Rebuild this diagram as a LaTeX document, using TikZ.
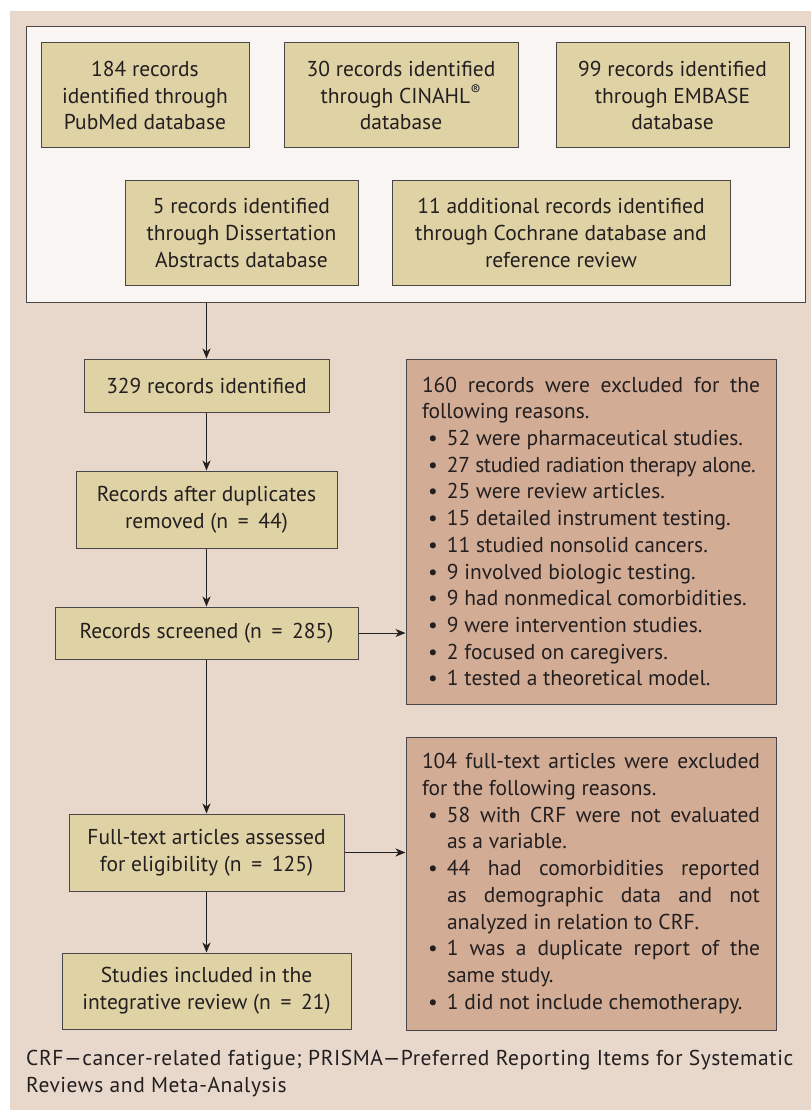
\documentclass[tikz,border=0pt]{standalone}
\usepackage{fontspec}
\setmainfont{PT Sans}
\usetikzlibrary{arrows.meta}

\definecolor{pagebg}{HTML}{E8D8CB}
\definecolor{idbg}{HTML}{F8F5F2}
\definecolor{recfill}{HTML}{DFD3A5}
\definecolor{exfill}{HTML}{D2AC95}
\definecolor{edge}{HTML}{4A4646}
\definecolor{ink}{HTML}{231F20}
\setlength{\parindent}{0pt}
\newcommand{\exitem}[1]{\par\noindent\hangindent=25pt\hangafter=1\hbox to 25pt{\hskip 6pt\textbullet\hfil}#1}
\newcommand{\eqsign}{\hspace{0.45em}=\hspace{0.45em}}

\begin{document}
\begin{tikzpicture}[x=1pt,y=-1pt,
    every node/.style={font=\fontsize{21.5}{26.7}\selectfont,text=ink},
    recbox/.style={draw=edge,fill=recfill,line width=1pt,inner sep=0pt,align=center},
    exclbox/.style={draw=edge,fill=exfill,line width=1pt,inner xsep=16pt,inner ysep=0pt,text width=338pt,align=justify},
    flow/.style={-{Stealth[length=10pt,width=8pt,inset=3pt]},line width=1pt,draw=ink}]
  \useasboundingbox (0,0) rectangle (811,1110);
  \fill[pagebg] (10,11) rectangle (811,1110);
  %identification
  \node[draw=edge,fill=idbg,line width=1pt,minimum width=779pt,minimum height=275pt,inner sep=0pt] (idbox) at (415.5,164.5) {};
  \node[recbox,minimum width=208pt,minimum height=105pt] (pubmed) at (145,95.5)
    {184 records\\identified through\\PubMed database};
  \node[recbox,minimum width=234pt,minimum height=105pt] (cinahl) at (401,95.5)
    {30 records identified\\through CINAHL\textsuperscript{\textregistered}\\database};
  \node[recbox,minimum width=233pt,minimum height=105pt] (embase) at (672.5,95.5)
    {99 records identified\\through EMBASE\\database};
  \node[recbox,minimum width=233pt,minimum height=104pt] (dissert) at (241.5,233)
    {5 records identified\\through Dissertation\\Abstracts database};
  \node[recbox,minimum width=338pt,minimum height=104pt] (cochrane) at (561,233)
    {11 additional records identified\\through Cochrane database and\\reference review};
  %main flow
  \node[recbox,minimum width=245pt,minimum height=53pt] (rec329) at (206.5,385.5) {329 records identified};
  \node[recbox,minimum width=261pt,minimum height=77pt] (recdup) at (206.5,509.5)
    {Records after duplicates\\removed (n\eqsign 44)};
  \node[recbox,minimum width=303pt,minimum height=52pt] (screened) at (206.5,633) {Records screened (n\eqsign 285)};
  \node[recbox,minimum width=275pt,minimum height=77pt] (fulltext) at (206.5,852.5)
    {Full-text articles assessed\\for eligibility (n\eqsign 125)};
  \node[recbox,minimum width=289pt,minimum height=76pt] (included) at (206.5,991)
    {Studies included in the\\integrative review (n\eqsign 21)};
  %exclusions
  \node[exclbox,minimum height=345pt] (excl1) at (591,531.5)
    {160 records were excluded for the\linebreak following reasons.
    \exitem{52 were pharmaceutical studies.}
    \exitem{{\addfontfeature{LetterSpace=-2}27 studied radiation therapy alone.}}
    \exitem{25 were review articles.}
    \exitem{15 detailed instrument testing.}
    \exitem{11 studied nonsolid cancers.}
    \exitem{9 involved biologic testing.}
    \exitem{9 had nonmedical comorbidities.}
    \exitem{9 were intervention studies.}
    \exitem{2 focused on caregivers.}
    \exitem{1 tested a theoretical model.}};
  \node[exclbox,minimum height=293pt] (excl2) at (591,883.5)
    {104 full-text articles were excluded\linebreak for the following reasons.
    \exitem{58 with CRF were not evaluated\linebreak as a variable.}
    \exitem{44 had comorbidities reported\linebreak as demographic data and not\linebreak analyzed in relation to CRF.}
    \exitem{1 was a duplicate report of the\linebreak same study.}
    \exitem{1 did not include chemotherapy.}};
  \draw[flow] (idbox.south -| rec329.north) -- (rec329.north);
  \draw[flow] (rec329) -- (recdup);
  \draw[flow] (recdup) -- (screened);
  \draw[flow] (screened) -- (fulltext);
  \draw[flow] (fulltext) -- (included);
  \draw[flow] (screened.east) -- (screened.east -| excl1.west);
  \draw[flow] (fulltext.east) -- (fulltext.east -| excl2.west);
  \node[anchor=north west,inner sep=0pt,align=left,font=\fontsize{21.5}{26.7}\selectfont\addfontfeature{LetterSpace=2.6}] (footnote) at (26,1050)
    {CRF\textemdash cancer-related fatigue; PRISMA\textemdash Preferred Reporting Items for Systematic\\Reviews and Meta-Analysis};
\end{tikzpicture}
\end{document}
